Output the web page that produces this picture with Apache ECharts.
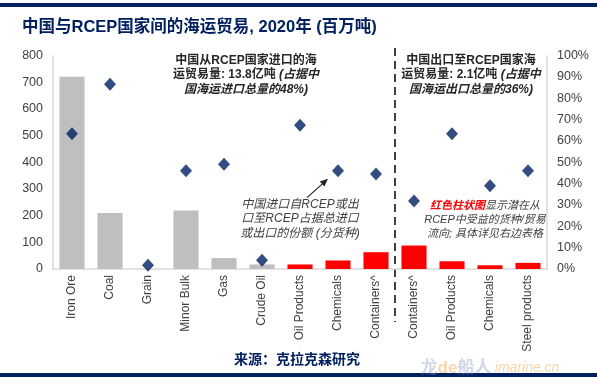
<!DOCTYPE html>
<html><head><meta charset="utf-8">
<script src="https://cdn.jsdelivr.net/npm/echarts@6/dist/echarts.min.js"></script>
<style>html,body{margin:0;padding:0;background:#fff}#c{width:597px;height:383px}</style>
</head><body><div id="c"></div>
<script>
const categories = ['Iron Ore','Coal','Grain','Minor Bulk','Gas','Crude Oil','Oil Products','Chemicals','Containers^','Containers^','Oil Products','Chemicals','Steel products'];
const volumes = [721, 210, 0, 219, 41, 17, 17, 32, 63, 88, 29, 14, 23];
const shares = [63.4, 86.6, 1.7, 46.1, 49.1, 4.1, 67.4, 46.1, 44.5, 31.9, 63.4, 39.0, 46.1];
const benefits = [false,false,false,false,false,false,true,true,true,true,true,true,true];
const leftTicks = [0,100,200,300,400,500,600,700,800];
const rightTicks = [0,10,20,30,40,50,60,70,80,90,100];

const FONT = '"Liberation Sans","Noto Sans CJK SC",Arial,sans-serif';
const chart = echarts.init(document.getElementById('c'), null, {renderer:'canvas'});
const labelColor = '#404040';

chart.setOption({
  animation:false,
  backgroundColor:'#fff',
  textStyle:{fontFamily:FONT},
  grid:{left:53,right:50,top:55.7,bottom:114,containLabel:false},
  xAxis:{type:'category',data:categories,
    axisLine:{show:true,lineStyle:{color:'#d9d9d9',width:1.5}},
    axisTick:{show:false},
    axisLabel:{rotate:90,interval:0,color:labelColor,fontSize:12,fontFamily:FONT,margin:6}},
  yAxis:[
    {type:'value',min:leftTicks[0],max:leftTicks[leftTicks.length-1],interval:100,
     axisLine:{show:true,lineStyle:{color:'#d9d9d9',width:1.5}},axisTick:{show:false},splitLine:{show:false},
     axisLabel:{color:labelColor,fontSize:12.5,fontFamily:FONT,margin:10}},
    {type:'value',min:rightTicks[0],max:rightTicks[rightTicks.length-1],interval:10,position:'right',
     axisLine:{show:true,lineStyle:{color:'#d9d9d9',width:1.5}},axisTick:{show:false},splitLine:{show:false},
     axisLabel:{color:labelColor,fontSize:12.5,fontFamily:FONT,margin:10,formatter:'{value}%'}}
  ],
  series:[
    {type:'bar',yAxisIndex:0,barWidth:'66%',
     data:volumes.map((v,i)=>({value:v,itemStyle:{color:benefits[i]?'#ff0000':'#bfbfbf'}}))},
    {type:'scatter',yAxisIndex:1,symbol:'diamond',symbolSize:[12,13],
     itemStyle:{color:'#002060'},data:shares,z:5}
  ]
});

const xPix = i => chart.convertToPixel({xAxisIndex:0}, i);
const divX = (xPix(8)+xPix(9))/2;
const chemPt = chart.convertToPixel({xAxisIndex:0,yAxisIndex:1},[7,shares[7]]);

const annoBase = {fontFamily:FONT,fontSize:12,fill:'#262626',fontWeight:'bold',lineHeight:14.5};
chart.setOption({graphic:[
  {type:'rect',shape:{x:0,y:3,width:597,height:4},style:{fill:'#002060'},silent:true},
  {type:'rect',shape:{x:0,y:373,width:597,height:4},style:{fill:'#002060'},silent:true},
  {type:'text',left:22,top:19,style:{text:'中国与RCEP国家间的海运贸易, 2020年 (百万吨)',fontFamily:FONT,fontSize:16.5,fontWeight:'bold',fill:'#002060'}},
  {type:'text',x:297,y:360,style:{text:'来源：克拉克森研究',fontFamily:FONT,fontSize:14,fontWeight:'bold',fill:'#002060',align:'center',verticalAlign:'middle'}},
  {type:'text',x:490,y:368,style:{text:'{a|龙}{b|de}{a|船人} {c|imarine.cn}',align:'center',verticalAlign:'middle',
    rich:{a:{fontFamily:FONT,fontSize:17,fontWeight:'bold',fill:'rgba(120,140,190,0.35)'},
          b:{fontFamily:FONT,fontSize:17,fontWeight:'bold',fill:'rgba(240,150,40,0.4)'},
          c:{fontFamily:FONT,fontSize:14,fontStyle:'italic',fill:'rgba(240,150,40,0.4)'}}}},
  {type:'line',shape:{x1:divX,y1:48,x2:divX,y2:322},style:{stroke:'#404040',lineWidth:2,lineDash:[8,5]}},
  {type:'text',x:246,y:53,style:{align:'center',
    text:'{b|中国从RCEP国家进口的海}\n{b|运贸易量: 13.8亿吨 }{i|(占据中}\n{i|国海运进口总量的48%)}',
    rich:{b:Object.assign({},annoBase),i:Object.assign({},annoBase,{fontStyle:'italic'})}}},
  {type:'text',x:471,y:53,style:{align:'center',
    text:'{b|中国出口至RCEP国家海}\n{b|运贸易量: 2.1亿吨 }{i|(占据中}\n{i|国海运出口总量的36%)}',
    rich:{b:Object.assign({},annoBase),i:Object.assign({},annoBase,{fontStyle:'italic'})}}},
  {type:'text',x:300,y:197,style:{align:'center',text:'中国进口自RCEP或出\n口至RCEP占据总进口\n或出口的份额 (分货种)',
    fontFamily:FONT,fontSize:12,fontStyle:'italic',fill:'#404040',lineHeight:14.5}},
  {type:'line',shape:{x1:chemPt[0]-31,y1:chemPt[1]+27,x2:chemPt[0]-12,y2:chemPt[1]+10},style:{stroke:'#262626',lineWidth:1.2}},
  {type:'polygon',shape:{points:(function(){
      const tx=chemPt[0]-10, ty=chemPt[1]+8; const dx=19, dy=-17; const L=Math.hypot(dx,dy); const ux=dx/L, uy=dy/L;
      const bx=tx-ux*8, by=ty-uy*8; return [[tx,ty],[bx-uy*3.5,by+ux*3.5],[bx+uy*3.5,by-ux*3.5]];})()},
   style:{fill:'#262626'}},
  {type:'text',x:485,y:199,style:{align:'center',
    text:'{r|红色柱状图}{n|显示潜在从}\n{n|RCEP中受益的货种/贸易}\n{n|流向; 具体详见右边表格}',
    rich:{r:{fontFamily:FONT,fontSize:11,fontStyle:'italic',fontWeight:'bold',fill:'#ff0000',lineHeight:14},
          n:{fontFamily:FONT,fontSize:11,fontStyle:'italic',fill:'#404040',lineHeight:14}}}}
]});
</script></body></html>
